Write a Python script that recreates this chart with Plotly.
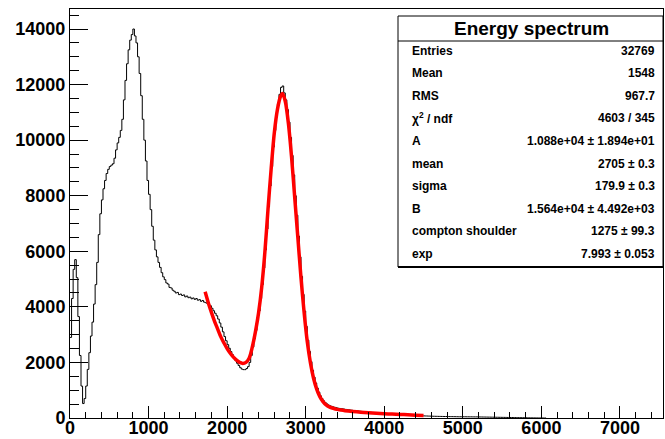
import numpy as np
import plotly.graph_objects as go

# ---------------- data ----------------
bin_width = 20
x_max = 7548
y_max = 14720

# histogram counts, bins of width 20 starting at 0
counts = [
    2900, 4300, 5350, 5700, 5050, 3650, 2250, 1150, 520, 700,            # 0-180
    1150, 1750, 2350, 2950, 3450, 4100, 4800, 5600, 6600, 7350,          # 200-380
    7850, 8250, 8550, 8800, 8950, 9050, 9100, 9150, 9350, 9650,          # 400-580
    9900, 10100, 10350, 10750, 11450, 12150, 12750, 13250, 13600, 13800, # 600-780
    14000, 13750, 13500, 13000, 12400, 11600, 10750, 10000, 9250, 8550,  # 800-980
    8050, 7500, 6900, 6400, 6050, 5800, 5600, 5420, 5230, 5080,          # 1000-1180
    4980, 4860, 4820, 4700, 4680, 4600, 4560, 4500, 4520, 4440,          # 1200-1380
    4460, 4410, 4430, 4360, 4390, 4330, 4350, 4290, 4320, 4270,          # 1400-1580
    4300, 4240, 4260, 4200, 4230, 4170, 4150, 4120, 4080, 4040,          # 1600-1780
    3950, 3860, 3770, 3680, 3560, 3420, 3270, 3100, 2930, 2780,          # 1800-1980
    2640, 2510, 2390, 2280, 2170, 2060, 1970, 1890, 1810, 1760,          # 2000-2180
    1740, 1740, 1780, 1850, 2000, 2250, 2550, 2850, 3150, 3500,          # 2200-2380
    3850, 4300, 4800, 5400, 6050, 6800, 7600, 8350, 9050, 9750,          # 2400-2580
    10350, 10850, 11300, 11650, 11900, 11950, 11700, 11450, 11100, 10650,# 2600-2780
    10100, 9450, 8750, 8000, 7300, 6550, 5800, 5100, 4450, 3850,         # 2800-2980
    3300, 2800, 2400, 2030, 1720, 1470, 1260, 1080, 930, 800,            # 3000-3180
    700, 620, 560, 510, 470, 440, 420, 400, 385, 370,                    # 3200-3380
    355, 345, 335, 330, 320, 310, 300, 295, 285, 280,                    # 3400-3580
    270, 265, 258, 252, 245, 238, 232, 226, 220, 214,                    # 3600-3780
    208, 203, 198, 193, 188, 183, 178, 174, 170, 166,                    # 3800-3980
    162, 158, 154, 150, 146, 143, 140, 136, 133, 130,                    # 4000-4180
    126, 122, 118, 114, 110, 106, 102, 98, 95, 92,                       # 4200-4380
    89, 86, 83, 80, 77, 75, 73, 71, 69, 67,                              # 4400-4580
    65, 63, 61, 60, 58, 57, 56, 55, 54, 53,                              # 4600-4780
    52, 51, 50, 49, 48, 47, 46, 45, 45, 44,                              # 4800-4980
    44, 44, 43, 43, 42, 42, 41, 40, 40, 39,                              # 5000-5180
    38, 37, 36, 35, 34, 33, 32, 31, 30, 29,                              # 5200-5380
    28, 27, 26, 25, 24, 23, 22, 21, 20, 19,                              # 5400-5580
    18, 17, 16, 15, 14, 13, 12, 11, 10, 9,                               # 5600-5780
    8, 7, 6, 5, 4, 3, 3, 2, 2, 1,                                        # 5800-5980
    1, 0, 0,
]

# fit curve (red)
fit_x = [1720, 1760, 1800, 1840, 1880, 1920, 1960, 2000, 2040, 2080, 2120, 2160,
         2200, 2240, 2280, 2320, 2360, 2400, 2440, 2480, 2520, 2560, 2600, 2640,
         2680, 2705, 2740, 2780, 2820, 2860, 2900, 2940, 2980, 3020, 3060, 3100,
         3140, 3180, 3220, 3260, 3300, 3350, 3400, 3450, 3500, 3600, 3700, 3800,
         3900, 4000, 4100, 4200, 4300, 4400, 4500]
fit_y = [4540, 4150, 3800, 3480, 3200, 2920, 2700, 2500, 2330, 2190, 2080, 2000,
         1965, 2000, 2150, 2550, 3100, 3780, 4700, 5950, 7500, 8950, 10250, 11100,
         11580, 11680, 11400, 10600, 9400, 7950, 6500, 5050, 3800, 2750, 1990, 1430,
         1040, 770, 590, 470, 400, 350, 310, 285, 265, 235, 210, 190,
         170, 155, 140, 128, 115, 100, 90]

x_ticks = [0, 1000, 2000, 3000, 4000, 5000, 6000, 7000]
y_ticks = [0, 2000, 4000, 6000, 8000, 10000, 12000, 14000]

stats_title = "Energy spectrum"
stats_labels = ["Entries", "Mean", "RMS", "χ<sup>2</sup> / ndf", "A", "mean",
                "sigma", "B", "compton shoulder", "exp"]
stats_values = ["32769", "1548", "967.7", "4603 / 345",
                "1.088e+04 ± 1.894e+01", "2705 ± 0.3", "179.9 ± 0.3",
                "1.564e+04 ± 4.492e+03", "1275 ± 99.3", "7.993 ± 0.053"]

# ---------------- figure ----------------
edges = np.arange(len(counts) + 1) * bin_width
hx = list(edges[:-1]) + [edges[-1]]
hy = list(counts) + [counts[-1]]

fig = go.Figure()
fig.add_trace(go.Scatter(x=hx, y=hy, mode="lines", line=dict(color="black", width=1, shape="hv"),
                         hoverinfo="skip", showlegend=False))
fig.add_trace(go.Scatter(x=fit_x, y=fit_y, mode="lines",
                         line=dict(color="#ff0000", width=3.5, shape="spline", smoothing=0.8),
                         hoverinfo="skip", showlegend=False))

W, H = 665, 439
L, R, T, B = 70, 663, 9, 418
def px(x):
    return (x - L) / (R - L)
def py(y):
    return (B - y) / (B - T)

font_fam = "Liberation Sans, Arial, sans-serif"
axis_common = dict(showline=True, linecolor="black", linewidth=1, mirror=True,
                   ticks="inside", tickcolor="black", showgrid=False, zeroline=False,
                   automargin=False,
                   tickfont=dict(family=font_fam, size=18, color="black", weight="bold"))

fig.update_xaxes(range=[0, x_max], tickvals=x_ticks, ticktext=[str(v) for v in x_ticks],
                 ticklen=12, tickwidth=1, ticklabelstandoff=-7,
                 minor=dict(dtick=200, ticklen=6, ticks="inside", tickcolor="black", showgrid=False),
                 **axis_common)
fig.update_yaxes(range=[0, y_max], tickvals=y_ticks, ticktext=[str(v) for v in y_ticks],
                 ticklen=18, tickwidth=1,
                 minor=dict(dtick=500, ticklen=9, ticks="inside", tickcolor="black", showgrid=False),
                 **axis_common)

# stats box
bx0, bx1, by0, by1 = 398, 663, 16, 267
shapes = [
    dict(type="rect", xref="paper", yref="paper", x0=px(bx0), x1=px(bx1), y0=py(by1), y1=py(by0),
         line=dict(color="black", width=1), fillcolor="white", layer="above"),
    dict(type="line", xref="paper", yref="paper", x0=px(bx0), x1=px(bx1), y0=py(41), y1=py(41),
         line=dict(color="black", width=1)),
    dict(type="line", xref="paper", yref="paper", x0=px(bx0), x1=px(bx1), y0=py(by1), y1=py(by1),
         line=dict(color="black", width=2)),
]
annotations = [
    dict(xref="paper", yref="paper", x=px(531), y=py(28), text=stats_title, showarrow=False,
         xanchor="center", yanchor="middle",
         font=dict(family=font_fam, size=19, color="black", weight="bold")),
]
row_y0, row_dy = 50.5, 22.6
for i, (lab, val) in enumerate(zip(stats_labels, stats_values)):
    yy = row_y0 + i * row_dy
    annotations.append(dict(xref="paper", yref="paper", x=px(410), y=py(yy), text=lab,
                            showarrow=False, xanchor="left", yanchor="middle",
                            font=dict(family=font_fam, size=12, color="black", weight="bold")))
    annotations.append(dict(xref="paper", yref="paper", x=px(657), y=py(yy), text=val,
                            showarrow=False, xanchor="right", yanchor="middle",
                            font=dict(family=font_fam, size=12, color="black", weight="bold")))

fig.update_layout(width=W, height=H, margin=dict(l=L, r=W - R, t=T, b=H - B, pad=0, autoexpand=False),
                  plot_bgcolor="white", paper_bgcolor="white",
                  shapes=shapes, annotations=annotations, showlegend=False)

fig.write_html("out.html")
